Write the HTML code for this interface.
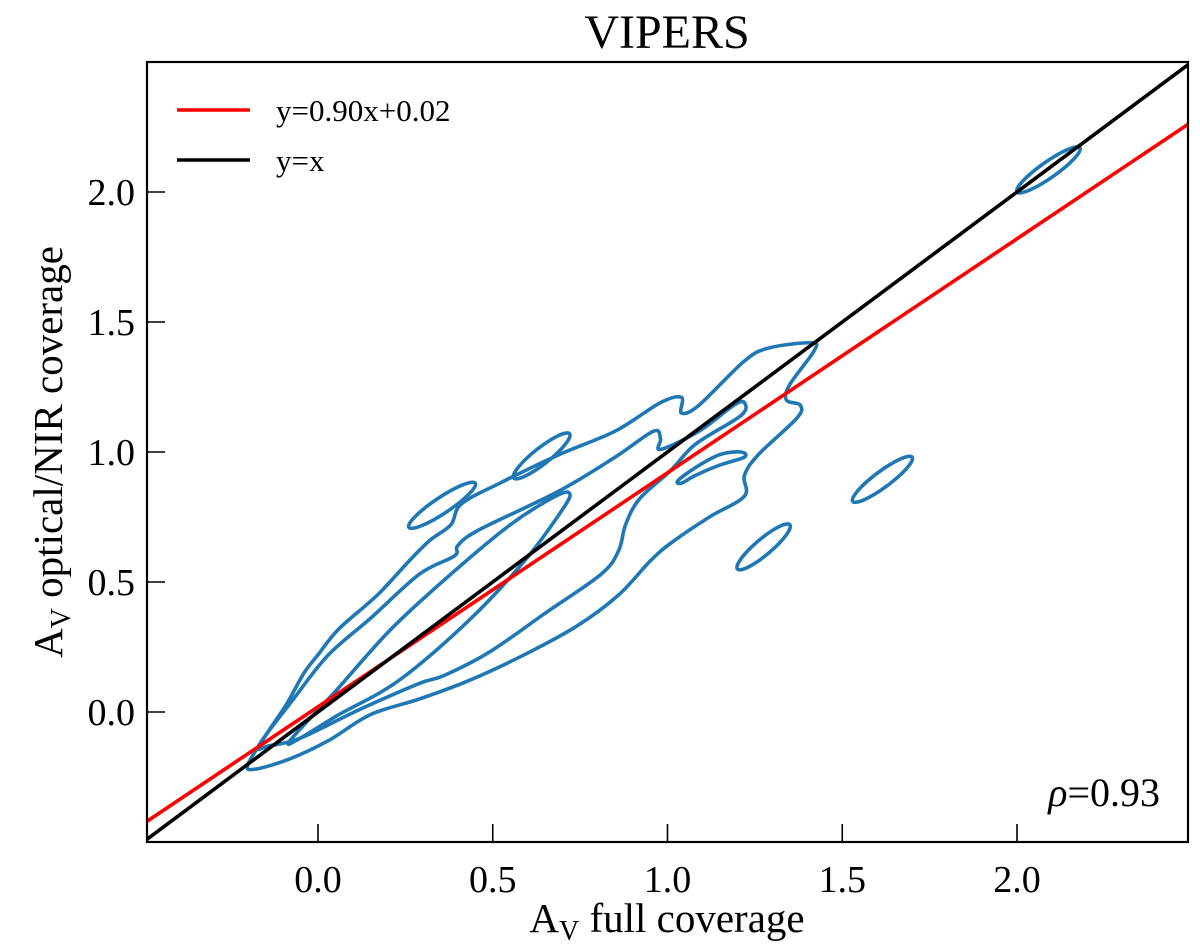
<!DOCTYPE html>
<html><head><meta charset="utf-8"><style>
html,body{margin:0;padding:0;background:#fff;}
svg{display:block;font-family:"Liberation Serif",serif;}
</style></head><body>
<svg id="chart" width="1200" height="948" viewBox="0 0 1200 948" xmlns="http://www.w3.org/2000/svg">
<text x="667" y="48" font-size="48" text-anchor="middle">VIPERS</text>
<g id="plot"></g>
<text x="667" y="932" font-size="41" text-anchor="middle">A<tspan font-size="28" dy="8">V</tspan><tspan dy="-8"> full coverage</tspan></text>
<text transform="translate(62,452) rotate(-90)" font-size="41" text-anchor="middle">A<tspan font-size="28" dy="8">V</tspan><tspan dy="-8"> optical/NIR coverage</tspan></text>
</svg>
<script>
const xTicks=[0.0,0.5,1.0,1.5,2.0];
const yTicks=[0.0,0.5,1.0,1.5,2.0];
const xDomain=[-0.49,2.49];
const yDomain=[-0.5,2.5];
const fitSlope=0.90, fitIntercept=0.02;
const rhoValue="0.93";
const outerX=[-0.20,-0.14,-0.09,-0.04,0.00,0.06,0.17,0.26,0.32,0.38,0.41,0.52,0.69,0.85,0.98,1.04,1.04,1.09,1.22,1.29,1.41,1.42,1.35,1.34,1.38,1.37,1.26,1.22,1.22,1.12,1.01,0.95,0.86,0.74,0.59,0.43,0.29,0.15,0.03,-0.08,-0.18];
const outerY=[-0.20,-0.07,0.03,0.15,0.22,0.32,0.45,0.58,0.66,0.72,0.80,0.88,0.99,1.08,1.19,1.21,1.15,1.18,1.35,1.40,1.42,1.39,1.26,1.20,1.18,1.13,0.99,0.91,0.83,0.75,0.65,0.58,0.45,0.33,0.22,0.12,0.05,-0.01,-0.11,-0.18,-0.22];
const midX=[-0.17,-0.07,0.03,0.15,0.29,0.39,0.40,0.46,0.69,0.85,0.96,0.98,0.98,1.09,1.19,1.22,1.21,1.08,1.01,0.92,0.88,0.86,0.81,0.65,0.49,0.36,0.29,0.12,-0.05,-0.14];
const midY=[-0.13,0.05,0.22,0.36,0.53,0.60,0.64,0.70,0.85,0.98,1.08,1.05,1.01,1.08,1.18,1.19,1.14,1.03,0.93,0.82,0.72,0.62,0.53,0.38,0.23,0.14,0.11,0.01,-0.10,-0.13];
const innerX=[-0.08,0.05,0.21,0.38,0.55,0.68,0.72,0.70,0.59,0.43,0.23,0.06,-0.05];
const innerY=[-0.11,0.08,0.32,0.53,0.72,0.83,0.84,0.78,0.58,0.35,0.12,-0.01,-0.10];
const cresX=[1.03,1.08,1.15,1.21,1.22,1.15,1.08,1.04];
const cresY=[0.89,0.94,0.99,1.00,0.98,0.95,0.91,0.88];
const ellX0=[0.26,0.56,1.20,1.53,2.00];
const ellY0=[0.71,0.90,0.55,0.81,2.00];
const ellX1=[0.45,0.72,1.35,1.70,2.18];
const ellY1=[0.88,1.07,0.72,0.98,2.17];

const L=147,R=1188,T=62,B=842;
const sx=v=>318+(v-0)*349.5;
const sy=v=>712-(v-0)*260;
const NS="http://www.w3.org/2000/svg";
const g=document.getElementById('plot');
function mk(t,a,p){const e=document.createElementNS(NS,t);for(const k in a)e.setAttribute(k,a[k]);(p||g).appendChild(e);return e;}
const defs=mk('defs',{});
const cp=mk('clipPath',{id:'clip'},defs);mk('rect',{x:L,y:T,width:R-L,height:B-T},cp);
const cg=mk('g',{'clip-path':'url(#clip)'});


function smooth(px,py){const n=px.length;let d=`M${px[0]},${py[0]}`;
 for(let i=0;i<n;i++){const p0=[px[(i-1+n)%n],py[(i-1+n)%n]],p1=[px[i],py[i]],p2=[px[(i+1)%n],py[(i+1)%n]],p3=[px[(i+2)%n],py[(i+2)%n]];
 const c1=[p1[0]+(p2[0]-p0[0])/6,p1[1]+(p2[1]-p0[1])/6],c2=[p2[0]-(p3[0]-p1[0])/6,p2[1]-(p3[1]-p1[1])/6];
 d+=`C${c1[0]},${c1[1]} ${c2[0]},${c2[1]} ${p2[0]},${p2[1]}`;}return d+'Z';}
function contour(xs,ys,name){const p=mk('path',{d:smooth(xs.map(sx),ys.map(sy)),fill:'none',stroke:'#1f77b4','stroke-width':3.6,'stroke-linejoin':'round'},cg);
 
 }
contour(outerX,outerY,'contour-outer');
contour(midX,midY,'contour-middle');
contour(innerX,innerY,'contour-inner');
contour(cresX,cresY,'contour-island-crescent');
for(let i=0;i<ellX0.length;i++){
 const x0=sx(ellX0[i]),y0=sy(ellY0[i]),x1=sx(ellX1[i]),y1=sy(ellY1[i]);
 const cx=(x0+x1)/2,cy=(y0+y1)/2,rx=Math.hypot(x1-x0,y1-y0)/2,ang=Math.atan2(y1-y0,x1-x0)*180/Math.PI;
 const e=mk('ellipse',{cx:cx,cy:cy,rx:rx,ry:8,transform:`rotate(${ang} ${cx} ${cy})`,fill:'none',stroke:'#1f77b4','stroke-width':3.6},cg);
 
 
}
const fl=mk('line',{x1:sx(xDomain[0]),y1:sy(fitSlope*xDomain[0]+fitIntercept),x2:sx(xDomain[1]),y2:sy(fitSlope*xDomain[1]+fitIntercept),stroke:'#ff0000','stroke-width':3.6},cg);


const il=mk('line',{x1:sx(xDomain[0]),y1:sy(xDomain[0]),x2:sx(xDomain[1]),y2:sy(xDomain[1]),stroke:'#000','stroke-width':3.6},cg);


const fr=mk('rect',{x:L,y:T,width:R-L,height:B-T,fill:'none',stroke:'#000','stroke-width':2.2});


xTicks.forEach(v=>{const x=sx(v);
 const t=mk('line',{x1:x,y1:B,x2:x,y2:B-18,stroke:'#000','stroke-width':1.6});
 
 
 const tx=mk('text',{x:x,y:B+50,'font-size':38,'text-anchor':'middle'});tx.textContent=v.toFixed(1);
 
 });
yTicks.forEach(v=>{const y=sy(v);
 const t=mk('line',{x1:L,y1:y,x2:L+18,y2:y,stroke:'#000','stroke-width':1.6});
 
 
 const tx=mk('text',{x:L-12,y:y+13,'font-size':38,'text-anchor':'end'});tx.textContent=v.toFixed(1);
 
 });
const lg=mk('g',{});


mk('line',{x1:177,y1:110,x2:250,y2:110,stroke:'#ff0000','stroke-width':3.6},lg);
const l1=mk('text',{x:276,y:121,'font-size':31},lg);l1.textContent='y=0.90x+0.02';


mk('line',{x1:177,y1:160,x2:250,y2:160,stroke:'#000','stroke-width':3.6},lg);
const l2=mk('text',{x:276,y:171,'font-size':31},lg);l2.textContent='y=x';


const rho=mk('text',{x:1160,y:806,'font-size':40,'text-anchor':'end'});
rho.innerHTML='<tspan font-style="italic">ρ</tspan>='+rhoValue;


</script>
</body></html>
